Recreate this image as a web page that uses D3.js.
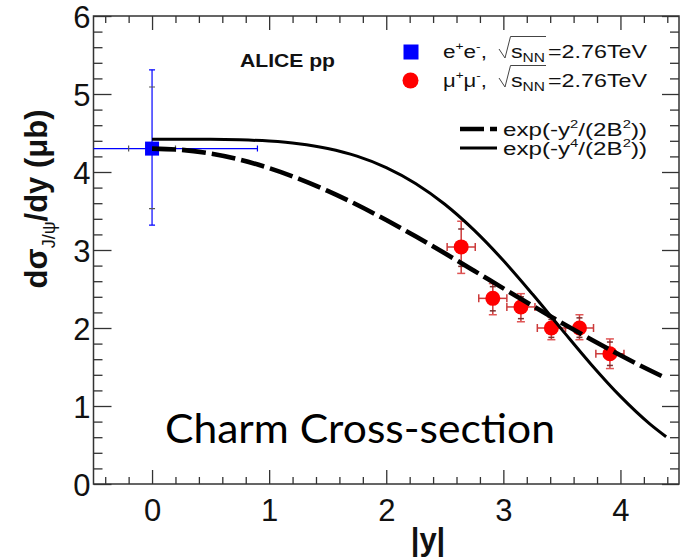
<!DOCTYPE html>
<html><head><meta charset="utf-8">
<script src="https://cdn.jsdelivr.net/npm/d3@7"></script>
<style>body{margin:0;background:#fff}svg{display:block}</style>
</head><body>
<svg id="c" width="687" height="558"></svg>
<script>
// ---- data ----
const curveX      = [0, 0.25, 0.5, 0.75, 1.0, 1.25, 1.5, 1.75, 2.0, 2.25, 2.5, 2.75, 3.0, 3.25, 3.5, 3.75, 4.0, 4.25, 4.39];
const gaussVals   = [4.300, 4.284, 4.236, 4.158, 4.050, 3.916, 3.758, 3.580, 3.384, 3.176, 2.958, 2.734, 2.508, 2.284, 2.065, 1.853, 1.650, 1.458, 1.356];
const quarticVals = [4.420, 4.420, 4.419, 4.412, 4.396, 4.363, 4.302, 4.204, 4.057, 3.853, 3.586, 3.254, 2.865, 2.432, 1.979, 1.533, 1.123, 0.771, 0.606];

const eeY = [0], eeVal = [4.30];
const eeErrUp = [1.01], eeErrDn = [0.98], eeSysUp = [0.79], eeSysDn = [0.77];
const eeXErr = [0.9], eeXSys = [0.2];

const muY      = [2.64, 2.91, 3.15, 3.41, 3.65, 3.91];
const muVal    = [3.04, 2.38, 2.27, 2.00, 2.00, 1.67];
const muErrUp  = [0.33, 0.19, 0.17, 0.14, 0.17, 0.19];
const muErrDn  = [0.34, 0.21, 0.19, 0.15, 0.15, 0.19];
const muSysUp  = [0.23, 0.15, 0.13, 0.11, 0.13, 0.15];
const muSysDn  = [0.25, 0.16, 0.15, 0.12, 0.12, 0.15];
const muXErr   = [0.12, 0.12, 0.12, 0.12, 0.12, 0.12];

const xMajor = [0, 1, 2, 3, 4];
const yMajor = [0, 1, 2, 3, 4, 5, 6];
const xTickLabels = ["0", "1", "2", "3", "4"];
const yTickLabels = ["0", "1", "2", "3", "4", "5", "6"];

// ---- layout ----
const svg = d3.select("#c");
const L = 93.5, R = 679, T = 16, B = 484;
const x = d3.scaleLinear().domain([-0.5, 4.5]).range([L, R]);
const y = d3.scaleLinear().domain([0, 6]).range([B, T]);
const FONT = "'Liberation Sans', Arial, Helvetica, sans-serif";
const AX = "#333";

svg.append("rect").attr("width", 687).attr("height", 558).attr("fill", "#fff");

svg.append("defs").append("clipPath").attr("id", "clip")
  .append("rect").attr("x", L).attr("y", T).attr("width", R - L).attr("height", B - T);

// minor tick values
const xMinor = d3.range(-0.4, 4.5, 0.2).map(v => +v.toFixed(2)).filter(v => Math.abs(v - Math.round(v)) > 1e-6);
const yMinor = d3.range(0.2, 6, 0.2).map(v => +v.toFixed(2)).filter(v => Math.abs(v - Math.round(v)) > 1e-6);

function styleAxis(g) {
  g.select(".domain").remove();
  g.selectAll(".tick line").attr("stroke", AX).attr("stroke-width", 1.3);
}
// bottom
svg.append("g").attr("transform", `translate(0,${B})`)
  .call(d3.axisBottom(x).tickValues(xMajor).tickSize(-14).tickFormat((d, i) => xTickLabels[i]).tickPadding(0))
  .call(styleAxis)
  .call(g => g.selectAll("text").attr("font-family", FONT).attr("font-size", 31).attr("fill", "#111")
    .attr("dy", null).attr("y", 37));
svg.append("g").attr("transform", `translate(0,${B})`)
  .call(d3.axisBottom(x).tickValues(xMinor).tickSize(-7).tickFormat(""))
  .call(styleAxis);
// top
svg.append("g").attr("transform", `translate(0,${T})`)
  .call(d3.axisTop(x).tickValues(xMajor).tickSize(-14).tickFormat(""))
  .call(styleAxis);
svg.append("g").attr("transform", `translate(0,${T})`)
  .call(d3.axisTop(x).tickValues(xMinor).tickSize(-7).tickFormat(""))
  .call(styleAxis);
// left
svg.append("g").attr("transform", `translate(${L},0)`)
  .call(d3.axisLeft(y).tickValues(yMajor).tickSize(-18).tickPadding(3).tickFormat((d, i) => yTickLabels[i]))
  .call(styleAxis)
  .call(g => g.selectAll("text").attr("font-family", FONT).attr("font-size", 31).attr("fill", "#111")
    .attr("dy", "0.36em"));
svg.append("g").attr("transform", `translate(${L},0)`)
  .call(d3.axisLeft(y).tickValues(yMinor).tickSize(-9).tickFormat(""))
  .call(styleAxis);
// right
svg.append("g").attr("transform", `translate(${R},0)`)
  .call(d3.axisRight(y).tickValues(yMajor).tickSize(-17).tickFormat(""))
  .call(styleAxis);
svg.append("g").attr("transform", `translate(${R},0)`)
  .call(d3.axisRight(y).tickValues(yMinor).tickSize(-9).tickFormat(""))
  .call(styleAxis);

// frame
svg.append("rect").attr("x", L).attr("y", T).attr("width", R - L).attr("height", B - T)
  .attr("fill", "none").attr("stroke", AX).attr("stroke-width", 1.5);

// axis titles
svg.append("text").attr("x", 428).attr("y", 550).attr("text-anchor", "middle")
  .attr("font-family", FONT).attr("font-weight", "bold").attr("font-size", 31).attr("fill", "#111").text("|y|");
const yt = svg.append("text").attr("transform", "translate(47,199) rotate(-90)").attr("text-anchor", "middle")
  .attr("font-family", FONT).attr("font-weight", "bold").attr("font-size", 31).attr("fill", "#111");
yt.append("tspan").text("dσ");
yt.append("tspan").attr("font-size", 18).attr("font-weight", "normal").attr("dy", 8).text("J/ψ");
yt.append("tspan").attr("dy", -8).text("/dy (μb)");

// ---- data points ----
const plot = svg.append("g").attr("clip-path", "url(#clip)");
const BLUE = "#0000ff", RED = "#ff0000", RED_ERR = "#cc3a3a";

// ee point
eeY.forEach((v, i) => {
  const cx = x(v), cy = y(eeVal[i]);
  const g = plot.append("g").attr("stroke-width", 1.2);
  g.append("line").attr("x1", cx).attr("x2", cx).attr("y1", y(eeVal[i] + eeErrUp[i])).attr("y2", y(eeVal[i] - eeErrDn[i])).attr("stroke", BLUE);
  g.append("line").attr("x1", x(v - eeXErr[i])).attr("x2", x(v + eeXErr[i])).attr("y1", cy).attr("y2", cy).attr("stroke", BLUE);
  [eeVal[i] + eeErrUp[i], eeVal[i] - eeErrDn[i]].forEach(t =>
    g.append("line").attr("x1", cx - 3).attr("x2", cx + 3).attr("y1", y(t)).attr("y2", y(t)).attr("stroke", BLUE));
  [eeVal[i] + eeSysUp[i], eeVal[i] - eeSysDn[i]].forEach(t =>
    g.append("line").attr("x1", cx - 3).attr("x2", cx + 3).attr("y1", y(t)).attr("y2", y(t)).attr("stroke", "#555"));
  [v - eeXErr[i], v + eeXErr[i]].forEach(t =>
    g.append("line").attr("x1", x(t)).attr("x2", x(t)).attr("y1", cy - 3).attr("y2", cy + 3).attr("stroke", BLUE));
  [v - eeXSys[i], v + eeXSys[i]].forEach(t =>
    g.append("line").attr("x1", x(t)).attr("x2", x(t)).attr("y1", cy - 3).attr("y2", cy + 3).attr("stroke", "#555"));
  g.append("rect").attr("x", cx - 7).attr("y", cy - 7).attr("width", 14).attr("height", 14).attr("fill", BLUE).attr("stroke", "none");
});

// mu points
muY.forEach((v, i) => {
  const cx = x(v), cy = y(muVal[i]);
  const g = plot.append("g").attr("stroke-width", 1.5);
  g.append("line").attr("x1", cx).attr("x2", cx).attr("y1", y(muVal[i] + muErrUp[i])).attr("y2", y(muVal[i] - muErrDn[i])).attr("stroke", RED_ERR);
  g.append("line").attr("x1", x(v - muXErr[i])).attr("x2", x(v + muXErr[i])).attr("y1", cy).attr("y2", cy).attr("stroke", RED_ERR);
  [muVal[i] + muErrUp[i], muVal[i] - muErrDn[i]].forEach(t =>
    g.append("line").attr("x1", cx - 4).attr("x2", cx + 4).attr("y1", y(t)).attr("y2", y(t)).attr("stroke", "#e05555"));
  [muVal[i] + muSysUp[i], muVal[i] - muSysDn[i]].forEach(t =>
    g.append("line").attr("x1", cx - 3).attr("x2", cx + 3).attr("y1", y(t)).attr("y2", y(t)).attr("stroke", "#7a3030"));
  [v - muXErr[i], v + muXErr[i]].forEach(t =>
    g.append("line").attr("x1", x(t)).attr("x2", x(t)).attr("y1", cy - 4).attr("y2", cy + 4).attr("stroke", RED_ERR));
  g.append("circle").attr("cx", cx).attr("cy", cy).attr("r", 7.5).attr("fill", RED).attr("stroke", "none");
});

// ---- curves ----
const line = d3.line().x(d => x(d[0])).y(d => y(d[1])).curve(d3.curveMonotoneX);
plot.append("path").datum(curveX.map((v, i) => [v, quarticVals[i]]))
  .attr("d", line).attr("fill", "none").attr("stroke", "#000").attr("stroke-width", 3);
plot.append("path").datum(curveX.map((v, i) => [v, gaussVals[i]]))
  .attr("d", line).attr("fill", "none").attr("stroke", "#000").attr("stroke-width", 4.6)
  .attr("stroke-dasharray", "24,6");

// ---- labels ----
svg.append("text").attr("x", 240).attr("y", 67).attr("font-family", FONT).attr("font-weight", "bold")
  .attr("font-size", 19).attr("textLength", 95).attr("lengthAdjust", "spacingAndGlyphs").attr("fill", "#111").text("ALICE pp");

// legend
const LF = 18;
function legendEntry(first, baseY) {
  const t1 = svg.append("text").attr("x", 443).attr("y", baseY).attr("font-family", FONT).attr("font-size", LF)
    .attr("fill", "#111").attr("textLength", 44).attr("lengthAdjust", "spacingAndGlyphs");
  t1.append("tspan").text(first);
  t1.append("tspan").attr("font-size", 11).attr("dy", -8).text("+");
  t1.append("tspan").attr("dy", 8).text(first);
  t1.append("tspan").attr("font-size", 11).attr("dy", -8).text("-");
  t1.append("tspan").attr("dy", 8).text(",");
  // radical sign
  svg.append("path").attr("d", `M499,${baseY - 9} L505,${baseY} L510.5,${baseY - 21.5} L546,${baseY - 21.5}`)
    .attr("fill", "none").attr("stroke", "#444").attr("stroke-width", 1);
  const t2 = svg.append("text").attr("x", 511).attr("y", baseY).attr("font-family", FONT).attr("font-size", LF)
    .attr("fill", "#111").attr("textLength", 34).attr("lengthAdjust", "spacingAndGlyphs");
  t2.append("tspan").text("s");
  t2.append("tspan").attr("font-size", 12).attr("dy", 4).text("NN");
  svg.append("text").attr("x", 548).attr("y", baseY).attr("font-family", FONT).attr("font-size", LF)
    .attr("fill", "#111").attr("textLength", 99).attr("lengthAdjust", "spacingAndGlyphs").text("=2.76TeV");
}
svg.append("rect").attr("x", 403.5).attr("y", 44.5).attr("width", 15).attr("height", 15).attr("fill", BLUE);
legendEntry("e", 58);
svg.append("circle").attr("cx", 410.5).attr("cy", 80.5).attr("r", 8).attr("fill", RED);
legendEntry("μ", 87);

svg.append("line").attr("x1", 460).attr("x2", 497).attr("y1", 129).attr("y2", 129)
  .attr("stroke", "#000").attr("stroke-width", 4.6).attr("stroke-dasharray", "24,6");
svg.append("line").attr("x1", 460).attr("x2", 497).attr("y1", 148).attr("y2", 148)
  .attr("stroke", "#000").attr("stroke-width", 3);
function fnLabel(pow, baseY) {
  const t = svg.append("text").attr("x", 503).attr("y", baseY).attr("font-family", FONT).attr("font-size", LF)
    .attr("fill", "#111").attr("textLength", 144).attr("lengthAdjust", "spacingAndGlyphs");
  t.append("tspan").text("exp(-y");
  t.append("tspan").attr("font-size", 11).attr("dy", -8).text(pow);
  t.append("tspan").attr("dy", 8).text("/(2B");
  t.append("tspan").attr("font-size", 11).attr("dy", -8).text("2");
  t.append("tspan").attr("dy", 8).text("))");
}
fnLabel("2", 136);
fnLabel("4", 155);

// big caption
svg.append("text").attr("x", 165).attr("y", 443).attr("font-family", "Lato, 'Open Sans', sans-serif")
  .attr("font-size", 40).attr("textLength", 390).attr("lengthAdjust", "spacingAndGlyphs").attr("fill", "#000")
  .text("Charm Cross-section");
</script>
</body></html>
